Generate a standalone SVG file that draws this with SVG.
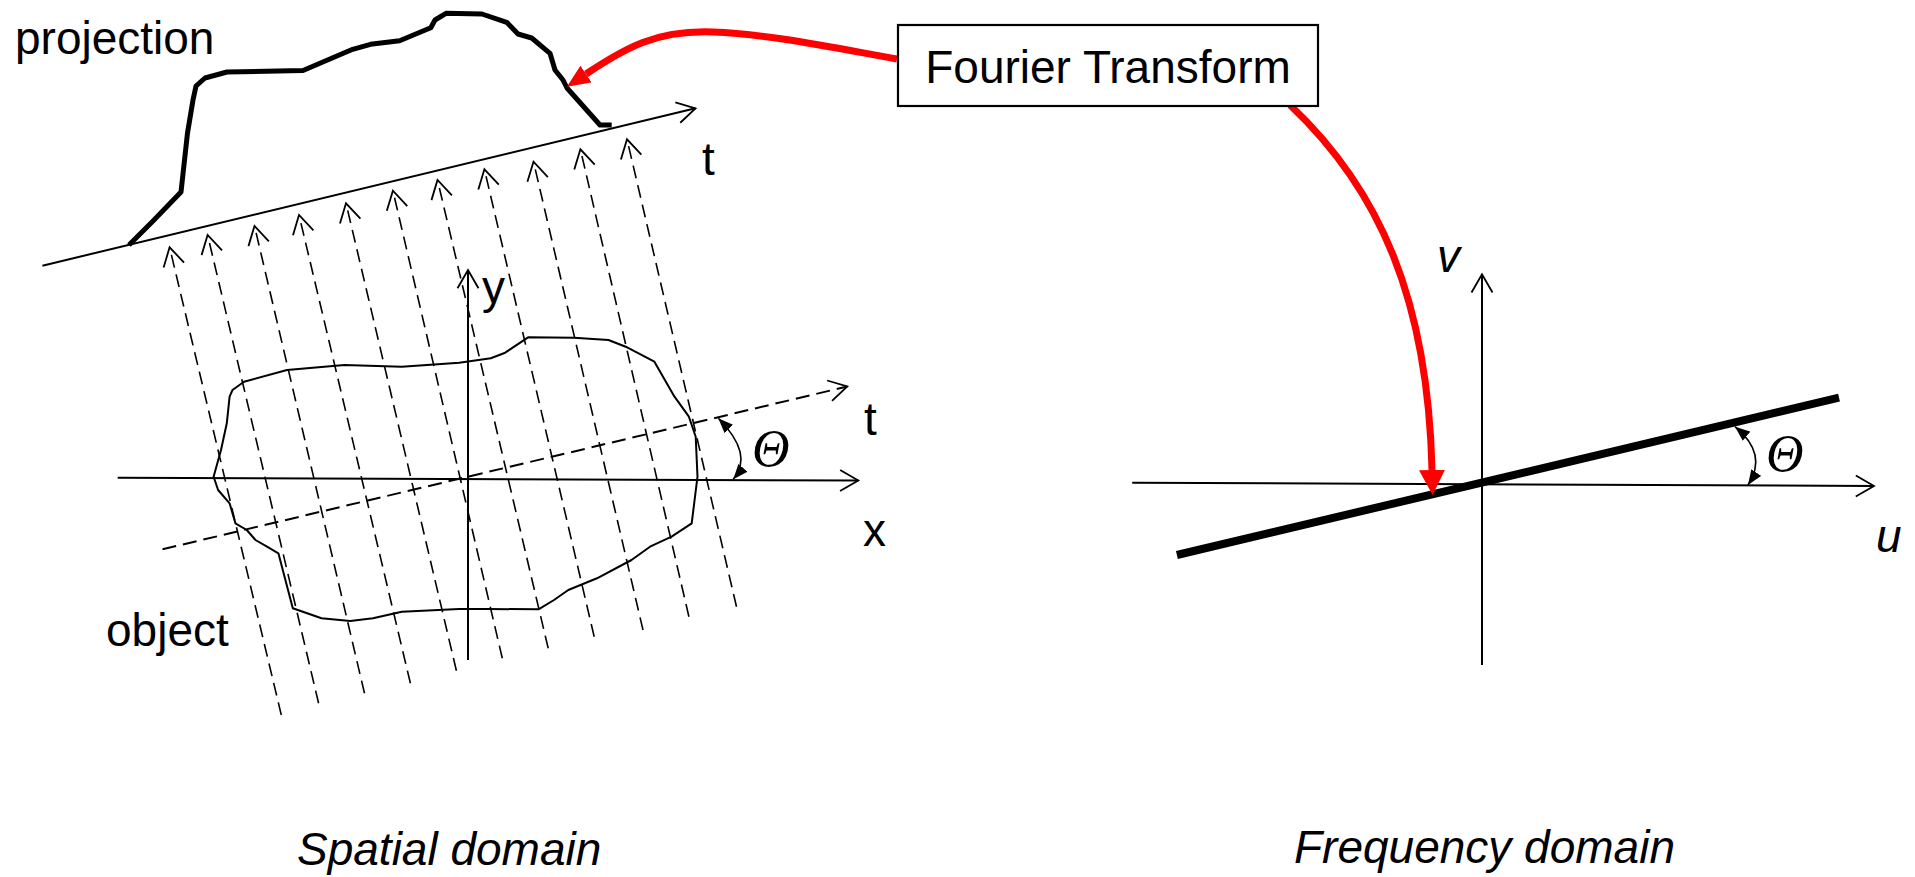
<svg xmlns="http://www.w3.org/2000/svg" width="1915" height="877" viewBox="0 0 1915 877">
<style>
  .lbl { font-family: "Liberation Sans", Arial, sans-serif; font-size: 46px; fill: #000; }
  .it { font-style: italic; }
  .theta { font-family: "Liberation Serif", "Times New Roman", serif; font-style: italic; font-size: 52px; fill: #000; }
  .axis { stroke: #000; stroke-width: 2; fill: none; }
  .ray { stroke: #000; stroke-width: 1.6; fill: none; stroke-dasharray: 13 7; marker-end: url(#open); }
  .red { stroke: #ff0000; stroke-width: 7; fill: none; }
  .arc { stroke: #000; stroke-width: 1.6; fill: none; marker-start: url(#tri); marker-end: url(#tri); }
</style>
<defs>
  <marker id="open" markerUnits="userSpaceOnUse" viewBox="-21 -12 23 24" refX="0" refY="0" markerWidth="23" markerHeight="24" orient="auto" overflow="visible">
    <path d="M-18.2,-10.5 L0,0 L-18.2,10.5" fill="none" stroke="#000" stroke-width="1.8" stroke-dasharray="none"/>
  </marker>
  <marker id="tri" markerUnits="userSpaceOnUse" viewBox="-15 -6 15 12" refX="0" refY="0" markerWidth="15" markerHeight="12" orient="auto-start-reverse">
    <path d="M-15,-6 L0,0 L-15,6 z" fill="#000"/>
  </marker>
  <marker id="redTop" markerUnits="userSpaceOnUse" viewBox="0 0 23 20" refX="0" refY="10" markerWidth="23" markerHeight="20" orient="auto">
    <path d="M0,0 L23,10 L0,20 z" fill="#ff0000"/>
  </marker>
  <marker id="redDown" markerUnits="userSpaceOnUse" viewBox="0 0 25 26" refX="0" refY="13" markerWidth="25" markerHeight="26" orient="auto">
    <path d="M0,0 L25,13 L0,26 z" fill="#ff0000"/>
  </marker>
</defs>
<rect width="1915" height="877" fill="#fff"/>

<g id="spatial-axes">
  <line class="axis" x1="42.4" y1="265.7" x2="695.5" y2="108.3" marker-end="url(#open)"/>
  <line class="axis" x1="117.7" y1="477.7" x2="858.3" y2="480.5" stroke-width="2.4" marker-end="url(#open)"/>
  <line class="axis" x1="468" y1="660" x2="468" y2="270" stroke-width="1.6" marker-end="url(#open)"/>
  <line class="axis" x1="162.5" y1="549.3" x2="847.3" y2="386.5" stroke-dasharray="14 7" marker-end="url(#open)"/>
</g>

<g id="projection-rays">
  <line class="ray" x1="281.3" y1="715" x2="169.6" y2="247.3"/>
  <line class="ray" x1="318.6" y1="703.3" x2="207.6" y2="235"/>
  <line class="ray" x1="364.5" y1="693.3" x2="254.5" y2="226"/>
  <line class="ray" x1="410.4" y1="683.3" x2="299" y2="215"/>
  <line class="ray" x1="456.4" y1="670.7" x2="346" y2="203.3"/>
  <line class="ray" x1="502.3" y1="658.3" x2="392.9" y2="190.7"/>
  <line class="ray" x1="548.2" y1="648.3" x2="437.5" y2="180"/>
  <line class="ray" x1="594.2" y1="636.7" x2="484.4" y2="169.3"/>
  <line class="ray" x1="643" y1="630" x2="533.5" y2="161.7"/>
  <line class="ray" x1="688.9" y1="616.7" x2="580.4" y2="149.3"/>
  <line class="ray" x1="736.5" y1="606.7" x2="627" y2="139.3"/>
</g>

<g id="object">
  <polygon fill="none" stroke="#000" stroke-width="2" stroke-linejoin="round" points="232.5,390 244,381.7 287,370 344.4,365 401.8,366.7 459.2,362.7 490.8,358.3 505.2,352.7 528.1,337.3 574,337.7 608.5,340 625.7,346.7 654.4,361.7 663,376.7 674.5,396.7 688.9,416.7 695.7,436.7 697.5,476.7 694.6,500 691.7,523.3 671.6,536.7 650,546.7 631.5,560 597,578.3 568.3,590 554,600 538.5,609.3 488,609 459.2,609 401.8,611.7 373,618.3 350.2,621 321.5,618.3 292.8,608.3 278.4,553.3 267,546.7 255.5,540 246.8,530 235.4,523.3 229.6,503.3 218.1,490 213.6,476.7 221,450 226.8,423.3 229.6,396.7"/>
</g>

<g id="projection-curve">
  <polyline fill="none" stroke="#000" stroke-width="5" stroke-linejoin="round" points="129,245 142,232 154,220 181,192 187.5,133 193,100 196,86 205,78 227,72 303,70.5 352.7,49.3 370.5,44.3 399.6,40.7 430.8,27.7 435,20 446,13.3 482,14 506.7,22.3 518,34 531.7,38 550,53.3 555,70 563,80 567,88 600,125 611.7,125"/>
</g>

<g id="spatial-angle">
  <path class="arc" d="M718.3,418.3 Q754.2,454.6 733.3,479.3"/>
</g>

<g id="frequency-axes">
  <line class="axis" x1="1132.2" y1="482.7" x2="1874" y2="486" marker-end="url(#open)"/>
  <line class="axis" x1="1482" y1="665" x2="1482" y2="274.3" stroke-width="1.6" marker-end="url(#open)"/>
  <line x1="1176.9" y1="555" x2="1839" y2="397.7" stroke="#000" stroke-width="8"/>
  <path class="arc" d="M1735,426.7 Q1768.5,454.2 1748,485"/>
</g>

<g id="connectors">
  <path class="red" d="M897,59 C840,49 770,34 713,32 S625,48 586,74" marker-end="url(#redTop)"/>
  <path class="red" d="M1290,105 C1380,190 1428,300 1432,470" marker-end="url(#redDown)"/>
</g>

<g id="fourier-box">
  <rect x="898" y="25" width="420" height="81" fill="#fff" stroke="#000" stroke-width="2.2"/>
  <text class="lbl" x="1108" y="83" text-anchor="middle" font-size="46.5">Fourier Transform</text>
</g>

<g id="labels">
  <text class="lbl" x="15" y="53.5">projection</text>
  <text class="lbl" x="106" y="646">object</text>
  <text class="lbl" x="482" y="303">y</text>
  <text class="lbl" x="702" y="175">t</text>
  <text class="lbl" x="864" y="435">t</text>
  <text class="lbl" x="863" y="546">x</text>
  <text class="theta" x="752" y="466">Θ</text>
  <text class="theta" x="1766" y="471">Θ</text>
  <text class="lbl it" x="1437" y="272">v</text>
  <text class="lbl it" x="1876" y="552">u</text>
  <text class="lbl it" x="297" y="865">Spatial domain</text>
  <text class="lbl it" x="1294" y="863" font-size="46.5">Frequency domain</text>
</g>
</svg>
